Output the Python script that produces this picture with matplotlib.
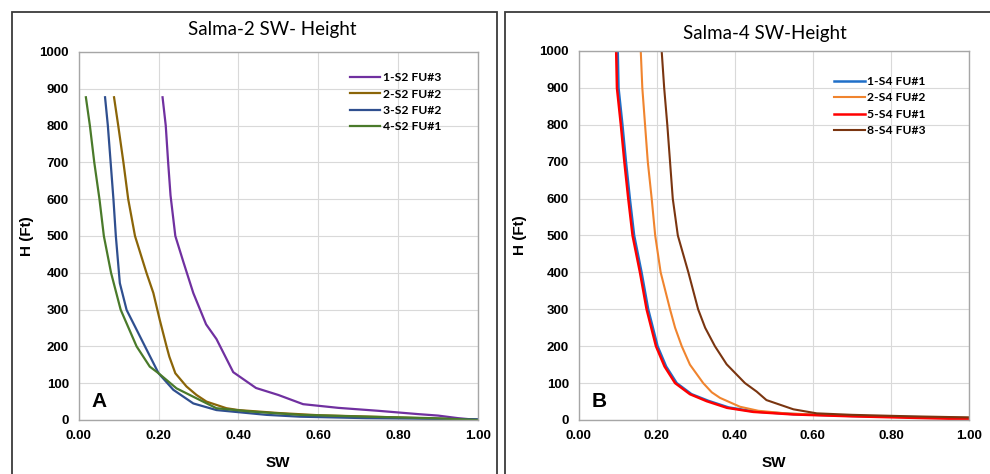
import matplotlib
matplotlib.use("Agg")
import matplotlib.pyplot as plt
from matplotlib.patches import Rectangle

# Salma-2 saturation-height curves (SW, H in ft)
s2_fu3_sw = [0.210, 0.218, 0.224, 0.230, 0.242, 0.262, 0.287, 0.319, 0.345, 0.387, 0.444, 0.50, 0.562, 0.65, 0.75, 0.85, 0.90, 0.95, 1.00]
s2_fu3_h = [877, 800, 700, 610, 500, 430, 345, 260, 220, 130, 87, 68, 43, 33, 25, 16, 12, 5, 0]

s2_2_sw = [0.0885, 0.099, 0.112, 0.124, 0.141, 0.170, 0.187, 0.203, 0.220, 0.227, 0.242, 0.270, 0.295, 0.320, 0.370, 0.40, 0.50, 0.60, 0.80, 1.00]
s2_2_h = [877, 800, 700, 600, 500, 399, 345, 272, 200, 172, 127, 91, 68, 50, 32, 27, 19, 13, 7, 0]

s2_3_sw = [0.066, 0.073, 0.080, 0.087, 0.093, 0.103, 0.120, 0.141, 0.166, 0.200, 0.237, 0.287, 0.345, 0.47, 0.554, 0.72, 1.00]
s2_3_h = [877, 800, 700, 600, 500, 372, 299, 254, 200, 127, 82, 45, 27, 14, 9, 5, 2]

s2_4_sw = [0.018, 0.028, 0.039, 0.052, 0.063, 0.081, 0.105, 0.145, 0.178, 0.200, 0.245, 0.304, 0.345, 0.43, 0.554, 0.72, 0.887, 1.00]
s2_4_h = [877, 800, 700, 600, 500, 400, 300, 200, 145, 127, 86, 54, 32, 23, 14, 9, 5, 0]

# Salma-4 saturation-height curves
s4_1_sw = [0.100, 0.102, 0.112, 0.121, 0.131, 0.142, 0.161, 0.178, 0.202, 0.224, 0.251, 0.289, 0.332, 0.384, 0.45, 0.55, 0.70, 0.85, 1.00]
s4_1_h = [1000, 900, 800, 700, 600, 500, 400, 300, 200, 145, 100, 70, 52, 34, 23, 16, 11, 8, 5]

s4_5_sw = [0.096, 0.098, 0.108, 0.117, 0.127, 0.138, 0.157, 0.174, 0.198, 0.220, 0.247, 0.285, 0.328, 0.380, 0.447, 0.55, 0.70, 0.85, 1.00]
s4_5_h = [1000, 900, 800, 700, 600, 500, 400, 300, 200, 145, 100, 70, 51, 33, 22, 15, 10, 6, 2]

s4_2_sw = [0.159, 0.163, 0.170, 0.177, 0.187, 0.196, 0.210, 0.234, 0.247, 0.264, 0.285, 0.319, 0.341, 0.362, 0.413, 0.46, 0.53, 0.60, 0.75, 0.90, 1.00]
s4_2_h = [1000, 900, 800, 700, 600, 500, 400, 300, 250, 200, 150, 100, 75, 60, 36, 25, 18, 15, 10, 7, 6]

s4_8_sw = [0.2126, 0.219, 0.227, 0.234, 0.241, 0.254, 0.281, 0.306, 0.324, 0.349, 0.379, 0.426, 0.456, 0.481, 0.55, 0.61, 0.70, 0.85, 1.00]
s4_8_h = [1000, 900, 800, 700, 600, 500, 400, 300, 250, 200, 151, 100, 77, 54, 29, 18, 14, 10, 7]

xticks = [0.0, 0.2, 0.4, 0.6, 0.8, 1.0]
yticks = list(range(0, 1001, 100))

plt.rcParams['font.family'] = ['Liberation Sans', 'DejaVu Sans']

fig = plt.figure(figsize=(9.9, 4.74), dpi=100)
W, H = 990, 474

# panel frames
for x0, x1 in [(12, 497), (505, 1000)]:
    fig.patches.append(Rectangle((x0 / W, -0.05), (x1 - x0) / W, 1 - 12 / H + 0.05,
                                 transform=fig.transFigure, fill=False,
                                 edgecolor='#3a3a3a', linewidth=1.3))

ax1 = fig.add_axes([78.7 / W, 1 - 420 / H, (478 - 78.7) / W, (420 - 52) / H])
ax2 = fig.add_axes([578.7 / W, 1 - 420 / H, (969 - 578.7) / W, (420 - 51) / H])

ax1.plot(s2_fu3_sw, s2_fu3_h, color='#7030A0', lw=1.6, label='1-S2 FU#3')
ax1.plot(s2_2_sw, s2_2_h, color='#8B6508', lw=1.6, label='2-S2 FU#2')
ax1.plot(s2_3_sw, s2_3_h, color='#2F4F8F', lw=1.6, label='3-S2 FU#2')
ax1.plot(s2_4_sw, s2_4_h, color='#4A7A2A', lw=1.6, label='4-S2 FU#1')

ax2.plot(s4_1_sw, s4_1_h, color='#1F6FC8', lw=1.8, label='1-S4 FU#1')
ax2.plot(s4_2_sw, s4_2_h, color='#F0842E', lw=1.5, label='2-S4 FU#2')
ax2.plot(s4_5_sw, s4_5_h, color='#FF0000', lw=1.8, label='5-S4 FU#1')
ax2.plot(s4_8_sw, s4_8_h, color='#7A3510', lw=1.5, label='8-S4 FU#3')

titles = ['Salma-2 SW- Height', 'Salma-4 SW-Height']
letters = ['A', 'B']
title_pos = [(272, 30), (765, 33)]
legend_pos = [(0.652, 0.975), (0.627, 0.962)]
ylabel_x = [34, 527]
for ax, t, letter, tp, lp, yx in zip([ax1, ax2], titles, letters, title_pos, legend_pos, ylabel_x):
    ax.set_xlim(0, 1)
    ax.set_ylim(0, 1000)
    ax.set_xticks(xticks)
    ax.set_xticklabels([f'{v:.2f}' for v in xticks])
    ax.set_yticks(yticks)
    ax.tick_params(length=0, labelsize=9.5, pad=7, colors='#000000')
    for lab in ax.get_xticklabels() + ax.get_yticklabels():
        lab.set_fontweight('bold')
    ax.grid(True, color='#D9D9D9', lw=0.8)
    ax.set_axisbelow(True)
    for sp in ax.spines.values():
        sp.set_color('#A6A6A6')
        sp.set_linewidth(1.0)
    ax.set_xlabel('SW', fontsize=11, fontweight='bold', labelpad=10)
    ax.set_ylabel('H (Ft)', fontsize=11, fontweight='bold')
    bb = ax.get_position()
    ax.yaxis.set_label_coords((yx / W - bb.x0) / bb.width, 0.5)
    ax.text(0.032, 0.025, letter, transform=ax.transAxes, fontsize=15,
            fontweight='bold', ha='left', va='bottom')
    fig.text(tp[0] / W, 1 - tp[1] / H, t, ha='center', va='center',
             fontsize=13.5, family='Lato')
    ax.legend(loc='upper left', bbox_to_anchor=lp, frameon=False,
              handlelength=2.5, handletextpad=0.2, labelspacing=0.45,
              prop={'family': 'Lato', 'weight': 'bold', 'size': 8.7})

fig.savefig('out.png', dpi=100)
